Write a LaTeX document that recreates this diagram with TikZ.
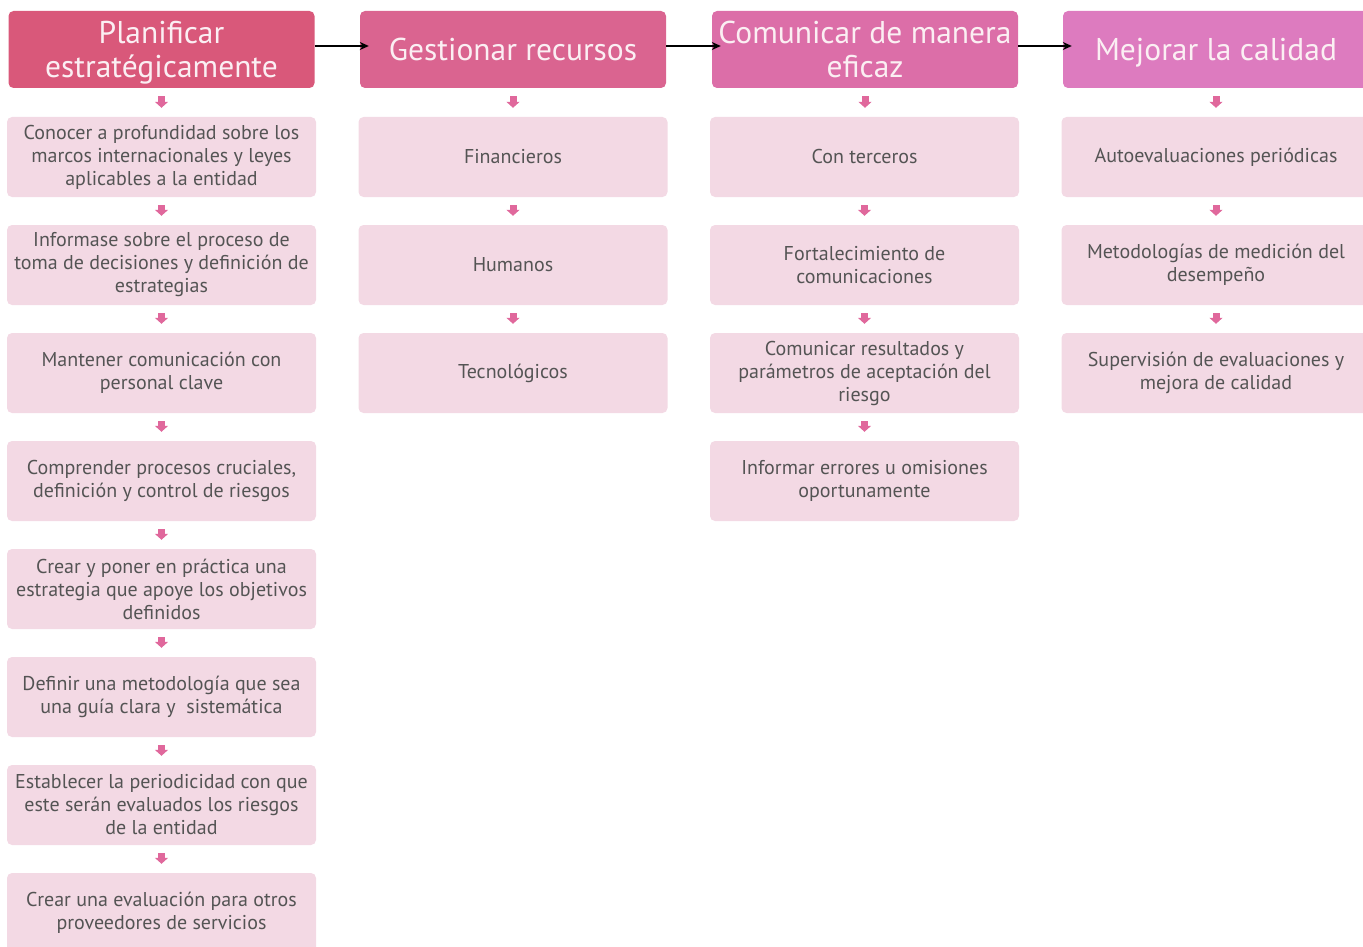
\documentclass[tikz,border=0pt]{standalone}
\usepackage{fontspec}
\setmainfont{PT Sans}
\usetikzlibrary{arrows.meta,calc}
\definecolor{hA}{HTML}{D9587A}
\definecolor{hB}{HTML}{DA6490}
\definecolor{hC}{HTML}{DC6EA8}
\definecolor{hD}{HTML}{DD7BBF}
\definecolor{bodyfill}{HTML}{F3D9E4}
\definecolor{bodytext}{HTML}{545454}
\definecolor{headtext}{HTML}{FBEFF3}
\definecolor{barrow}{HTML}{E0689C}
\tikzset{
  header/.style={rounded corners=5pt, minimum width=306pt, minimum height=77pt, align=center,
    text=headtext, font=\fontsize{31.5}{34}\selectfont, inner sep=0pt, text depth=1pt},
  item/.style={fill=bodyfill, rounded corners=5pt, minimum width=309pt, minimum height=80pt,
    align=center, text=bodytext, font=\fontsize{20}{23}\selectfont, inner sep=0pt},
  down/.style={barrow, line width=7pt, -{Triangle[width=13pt,length=6pt]}, shorten <=8pt, shorten >=9pt},
  flow/.style={black, line width=1.4pt, -{Stealth[length=9pt,width=8pt]}, shorten >=-9pt}
}
\begin{document}
\begin{tikzpicture}[x=1pt,y=-1pt]
\useasboundingbox (0,0) rectangle (1363,947);
\clip (0,0) rectangle (1363,947);
% headers
\node[header, fill=hA] (h1) at (161.5,49.5) {Planificar\\estratégicamente};
\node[header, fill=hB] (h2) at (513,49.5) {Gestionar recursos};
\node[header, fill=hC] (h3) at (865,49.5) {Comunicar de manera\\eficaz};
\node[header, fill=hD] (h4) at (1216,49.5) {Mejorar la calidad};
% column 1
\node[item] (a1) at (161.5,157) {Conocer a profundidad sobre los\\marcos internacionales y leyes\\aplicables a la entidad};
\node[item] (a2) at (161.5,265) {Informase sobre el proceso de\\toma de decisiones y definición de\\estrategias};
\node[item] (a3) at (161.5,373) {Mantener comunicación con\\personal clave};
\node[item] (a4) at (161.5,481) {Comprender procesos cruciales,\\definición y control de riesgos};
\node[item] (a5) at (161.5,589) {Crear y poner en práctica una\\estrategia que apoye los objetivos\\definidos};
\node[item] (a6) at (161.5,697) {Definir una metodología que sea\\una guía clara y~ sistemática};
\node[item] (a7) at (161.5,805) {Establecer la periodicidad con que\\este serán evaluados los riesgos\\de la entidad};
\node[item] (a8) at (161.5,913) {Crear una evaluación para otros\\proveedores de servicios};
% column 2
\node[item] (b1) at (513,157) {Financieros};
\node[item] (b2) at (513,265) {Humanos};
\node[item] (b3) at (513,373) {Tecnológicos};
% column 3
\node[item] (c1) at (864.5,157) {Con terceros};
\node[item] (c2) at (864.5,265) {Fortalecimiento de\\comunicaciones};
\node[item] (c3) at (864.5,373) {Comunicar resultados y\\parámetros de aceptación del\\riesgo};
\node[item] (c4) at (864.5,481) {Informar errores u omisiones\\oportunamente};
% column 4
\node[item] (d1) at (1216,157) {Autoevaluaciones periódicas};
\node[item] (d2) at (1216,265) {Metodologías de medición del\\desempeño};
\node[item] (d3) at (1216,373) {Supervisión de evaluaciones y\\mejora de calidad};
% header flow arrows
\draw[flow] ($(h1.east)+(0,-3.5)$) -- ($(h2.west)+(0,-3.5)$);
\draw[flow] ($(h2.east)+(0,-3.5)$) -- ($(h3.west)+(0,-3.5)$);
\draw[flow] ($(h3.east)+(0,-3.5)$) -- ($(h4.west)+(0,-3.5)$);
% down arrows
\foreach \u/\v in {h1/a1,a1/a2,a2/a3,a3/a4,a4/a5,a5/a6,a6/a7,a7/a8,
                   h2/b1,b1/b2,b2/b3,
                   h3/c1,c1/c2,c2/c3,c3/c4,
                   h4/d1,d1/d2,d2/d3}
  \draw[down] (\u.south) -- (\u.south |- \v.north);
\end{tikzpicture}
\end{document}
